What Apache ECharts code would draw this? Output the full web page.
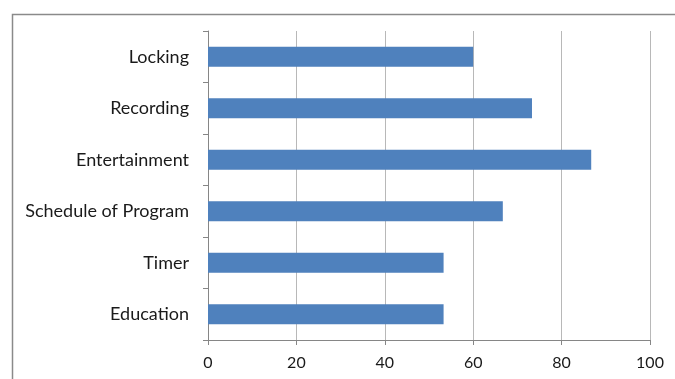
<!DOCTYPE html>
<html>
<head>
<meta charset="utf-8">
<script src="https://cdn.jsdelivr.net/npm/echarts@6/dist/echarts.min.js"></script>
<style>
  html, body { margin: 0; padding: 0; background: #fff; }
  #chart { width: 675px; height: 379px; }
</style>
</head>
<body>
<div id="chart"></div>
<script>
// Features, listed bottom to top as drawn on the category axis
const categories = ['Education', 'Timer', 'Schedule of Program', 'Entertainment', 'Recording', 'Locking'];
// Share of users (%) per feature
const values = [53.3, 53.3, 66.7, 86.7, 73.3, 60];
// Value axis ticks
const xMin = 0;
const xMax = 100;
const xStep = 20;

const chart = echarts.init(document.getElementById('chart'), null, { renderer: 'canvas' });
const font = 'Lato, "Open Sans", sans-serif';

chart.setOption({
  animation: false,
  backgroundColor: '#ffffff',
  graphic: [{
    type: 'rect',
    left: 10, top: 12,
    shape: { width: 700, height: 400 },
    style: { fill: 'none', stroke: '#8a8a8a', lineWidth: 1.5 },
    silent: true
  }],
  grid: { left: 208, right: 25, top: 31, bottom: 39, containLabel: false },
  xAxis: {
    type: 'value',
    min: xMin, max: xMax, interval: xStep,
    axisLine: { show: true, lineStyle: { color: '#868686', width: 1 } },
    axisTick: { show: true, length: 5, lineStyle: { color: '#868686' } },
    splitLine: { show: true, lineStyle: { color: '#b8b8b8', width: 1 } },
    axisLabel: { color: '#1a1a1a', fontSize: 16, fontFamily: font, margin: 15 }
  },
  yAxis: {
    type: 'category',
    data: categories,
    axisLine: { show: true, lineStyle: { color: '#868686', width: 1 } },
    axisTick: { show: true, length: 5, alignWithLabel: false, lineStyle: { color: '#868686' } },
    splitLine: { show: false },
    axisLabel: { color: '#1a1a1a', fontSize: 18, fontFamily: font, margin: 19 }
  },
  series: [{
    type: 'bar',
    data: values,
    barWidth: 20,
    itemStyle: { color: '#4f81bd' }
  }]
});
</script>
</body>
</html>
